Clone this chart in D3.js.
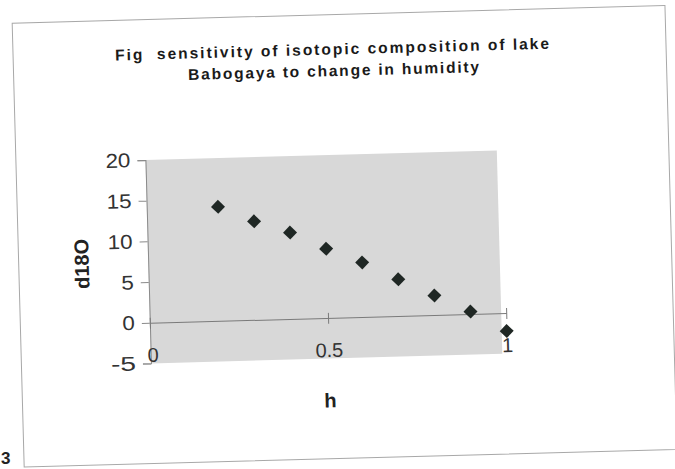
<!DOCTYPE html>
<html lang="en">
<head>
    <meta charset="UTF-8">
    <title>Sensitivity of d18O to humidity</title>
    <script src="https://cdn.jsdelivr.net/npm/d3@7"></script>
    <style>
        body { margin: 0; background: #fff; }
        text { font-family: Arial, "Liberation Sans", sans-serif; }
    </style>
</head>
<body>
<script>

    // data
    var humidity = [0.2, 0.3, 0.4, 0.5, 0.6, 0.7, 0.8, 0.9, 1.0];
    var d18O     = [14.0, 12.1, 10.6, 8.5, 6.7, 4.5, 2.4, 0.3, -2.2];
    var yTicks   = [-5, 0, 5, 10, 15, 20];
    var xTicks   = [0, 0.5, 1];
    var titleLines = ['Fig  sensitivity of isotopic composition of lake',
                      'Babogaya to change in humidity'];

    var W = 675, H = 469;

    var svg = d3.select('body')
        .append('svg')
        .attr('width', W)
        .attr('height', H);

    svg.append('rect')
        .attr('width', W)
        .attr('height', H)
        .attr('fill', '#fff');

    // the page was scanned a little crooked, so tilt everything
    var g = svg.append('g')
        .attr('transform', 'rotate(-1.55, 337, 234)');

    // chart frame
    g.append('rect')
        .attr('x', 18)
        .attr('y', 14.5)
        .attr('width', 653)
        .attr('height', 444)
        .attr('fill', 'none')
        .attr('stroke', '#a8a8a8')
        .attr('stroke-width', 1);

    var x = d3.scaleLinear().domain([0, 1]).range([147.5, 504]);
    var y = d3.scaleLinear().domain([-5, 20]).range([358.3, 154.8]);

    // grey plot area
    g.append('rect')
        .attr('x', x(0))
        .attr('y', y(20))
        .attr('width', 499 - x(0))
        .attr('height', y(-5) - y(20))
        .attr('fill', '#d8d8d8');

    // y axis
    var yAxis = d3.axisLeft(y)
        .tickValues(yTicks)
        .tickSize(8)
        .tickPadding(7)
        .tickFormat(String);

    var ya = g.append('g')
        .attr('transform', 'translate(' + x(0) + ',0)')
        .call(yAxis);
    ya.select('.domain').attr('stroke', '#8a8a8a');
    ya.selectAll('.tick line').attr('stroke', '#8a8a8a');
    ya.selectAll('.tick text')
        .attr('fill', '#333')
        .attr('textLength', function(d) { return String(d).length * 12.5; })
        .attr('lengthAdjust', 'spacingAndGlyphs')
        .style('font-size', '20px')
        .style('font-family', 'Arial, "Liberation Sans", sans-serif');

    // x axis crosses at 0
    var xAxis = d3.axisBottom(x)
        .tickValues(xTicks)
        .tickSizeInner(6)
        .tickSizeOuter(0)
        .tickPadding(19)
        .tickFormat(String);

    var xa = g.append('g')
        .attr('transform', 'translate(0,' + y(0) + ')')
        .call(xAxis);
    xa.select('.domain').attr('stroke', '#7a7a7a');
    xa.selectAll('.tick line')
        .attr('y1', -5)
        .attr('stroke', '#7a7a7a');
    xa.selectAll('.tick text')
        .attr('fill', '#333')
        .attr('dx', function(d) { return d === 0 ? 2 : 0; })
        .style('font-size', '20px')
        .style('font-family', 'Arial, "Liberation Sans", sans-serif');

    // points, Excel style diamonds
    var pts = humidity.map(function(h, i) { return { h: h, v: d18O[i] }; });
    var diamond = d3.symbol().type(d3.symbolSquare).size(98);

    g.selectAll('path.pt')
        .data(pts)
        .enter()
            .append('path')
            .attr('class', 'pt')
            .attr('d', diamond)
            .attr('transform', function(d) {
                return 'translate(' + x(d.h) + ',' + y(d.v) + ') rotate(45)';
            })
            .attr('fill', '#1f2724');

    // titles
    var title = g.append('text')
        .attr('x', 337)
        .attr('text-anchor', 'middle')
        .attr('font-weight', 'bold')
        .attr('font-size', 15.5)
        .attr('fill', '#1a1a1a')
        .style('white-space', 'pre');
    title.append('tspan')
        .attr('x', 337)
        .attr('y', 54.5)
        .attr('textLength', 434)
        .attr('lengthAdjust', 'spacing')
        .text(titleLines[0]);
    title.append('tspan')
        .attr('x', 338)
        .attr('y', 76)
        .attr('textLength', 291)
        .attr('lengthAdjust', 'spacing')
        .text(titleLines[1]);

    g.append('text')
        .attr('transform', 'translate(88,257) rotate(-90)')
        .attr('text-anchor', 'middle')
        .attr('font-weight', 'bold')
        .attr('font-size', 20)
        .attr('fill', '#222')
        .text('d18O');

    g.append('text')
        .attr('x', 326)
        .attr('y', 407)
        .attr('text-anchor', 'middle')
        .attr('font-weight', 'bold')
        .attr('font-size', 20)
        .attr('fill', '#222')
        .text('h');

    // page number at the corner
    svg.append('text')
        .attr('x', 1)
        .attr('y', 464)
        .attr('font-weight', 'bold')
        .attr('font-size', 17)
        .attr('fill', '#222')
        .text('3');

</script>
</body>
</html>
